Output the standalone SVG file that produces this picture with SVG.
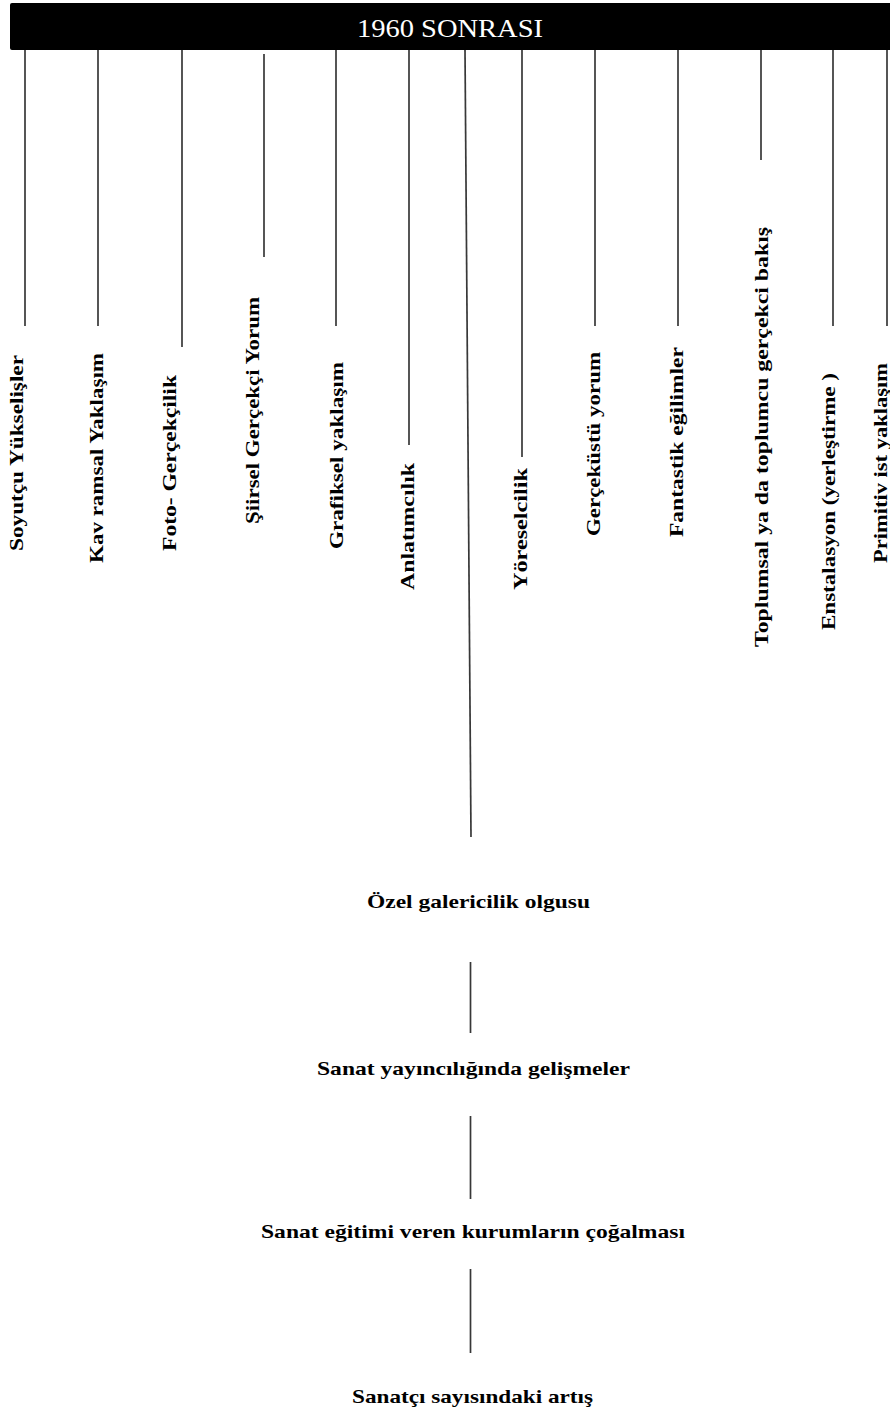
<svg xmlns="http://www.w3.org/2000/svg" width="890" height="1416" viewBox="0 0 890 1416">
<style>
.ln{stroke:#383838;stroke-width:1.7;fill:none}
.vl{font-family:"Liberation Serif","Times New Roman",serif;font-weight:bold;font-size:18px;fill:#000}
.hl{font-family:"Liberation Serif","Times New Roman",serif;font-weight:bold;font-size:19px;fill:#000}
</style>
<rect x="0" y="0" width="890" height="1416" fill="#fff"/>
<g id="header">
<rect x="10" y="3" width="885" height="47" rx="2" fill="#000"/>
<text x="357" y="37" textLength="186" lengthAdjust="spacingAndGlyphs" style="font-family:'Liberation Serif','Times New Roman',serif;font-size:26px;fill:#fff">1960 SONRASI</text>
</g>
<g id="connectors">
<line class="ln" x1="25" y1="50" x2="25" y2="326"/>
<line class="ln" x1="98" y1="50" x2="98" y2="326"/>
<line class="ln" x1="182" y1="50" x2="182" y2="347"/>
<line class="ln" x1="264" y1="54" x2="264" y2="257"/>
<line class="ln" x1="336" y1="50" x2="336" y2="326"/>
<line class="ln" x1="409" y1="50" x2="409" y2="445"/>
<line class="ln" x1="465" y1="50" x2="471" y2="837"/>
<line class="ln" x1="522" y1="50" x2="522" y2="457"/>
<line class="ln" x1="595" y1="50" x2="595" y2="326"/>
<line class="ln" x1="678" y1="50" x2="678" y2="326"/>
<line class="ln" x1="761" y1="50" x2="761" y2="160"/>
<line class="ln" x1="833" y1="50" x2="833" y2="326"/>
<line class="ln" x1="887" y1="50" x2="887" y2="326"/>
<line class="ln" x1="470.5" y1="962" x2="470.5" y2="1033"/>
<line class="ln" x1="470.5" y1="1116" x2="470.5" y2="1199"/>
<line class="ln" x1="470.5" y1="1269" x2="470.5" y2="1353"/>
</g>
<g id="n1"><text class="vl" transform="translate(23,551) rotate(-90)" textLength="196" lengthAdjust="spacingAndGlyphs">Soyutçu Yükselişler</text></g>
<g id="n2"><text class="vl" transform="translate(103,563) rotate(-90)" textLength="210" lengthAdjust="spacingAndGlyphs">Kav ramsal Yaklaşım</text></g>
<g id="n3"><text class="vl" transform="translate(176,551) rotate(-90)" textLength="176" lengthAdjust="spacingAndGlyphs">Foto- Gerçekçilik</text></g>
<g id="n4"><text class="vl" transform="translate(259,524) rotate(-90)" textLength="227" lengthAdjust="spacingAndGlyphs">Şiirsel Gerçekçi Yorum</text></g>
<g id="n5"><text class="vl" transform="translate(343,549) rotate(-90)" textLength="187" lengthAdjust="spacingAndGlyphs">Grafiksel yaklaşım</text></g>
<g id="n6"><text class="vl" transform="translate(414,590) rotate(-90)" textLength="127" lengthAdjust="spacingAndGlyphs">Anlatımcılık</text></g>
<g id="n7"><text class="vl" transform="translate(527,590) rotate(-90)" textLength="122" lengthAdjust="spacingAndGlyphs">Yöreselcilik</text></g>
<g id="n8"><text class="vl" transform="translate(600,536) rotate(-90)" textLength="184" lengthAdjust="spacingAndGlyphs">Gerçeküstü yorum</text></g>
<g id="n9"><text class="vl" transform="translate(683,537) rotate(-90)" textLength="190" lengthAdjust="spacingAndGlyphs">Fantastik eğilimler</text></g>
<g id="n10"><text class="vl" transform="translate(768,647) rotate(-90)" textLength="420" lengthAdjust="spacingAndGlyphs">Toplumsal ya da toplumcu  gerçekci bakış</text></g>
<g id="n11"><text class="vl" transform="translate(835,630) rotate(-90)" textLength="257" lengthAdjust="spacingAndGlyphs">Enstalasyon (yerleştirme )</text></g>
<g id="n12"><text class="vl" transform="translate(887,563) rotate(-90)" textLength="200" lengthAdjust="spacingAndGlyphs">Primitiv ist yaklaşım</text></g>
<g id="b1"><text class="hl" x="367" y="908" textLength="223" lengthAdjust="spacingAndGlyphs">Özel galericilik olgusu</text></g>
<g id="b2"><text class="hl" x="317" y="1075" textLength="313" lengthAdjust="spacingAndGlyphs">Sanat yayıncılığında gelişmeler</text></g>
<g id="b3"><text class="hl" x="261" y="1238" textLength="424" lengthAdjust="spacingAndGlyphs">Sanat eğitimi veren kurumların çoğalması</text></g>
<g id="b4"><text class="hl" x="352" y="1403" textLength="241" lengthAdjust="spacingAndGlyphs">Sanatçı sayısındaki artış</text></g>
</svg>
